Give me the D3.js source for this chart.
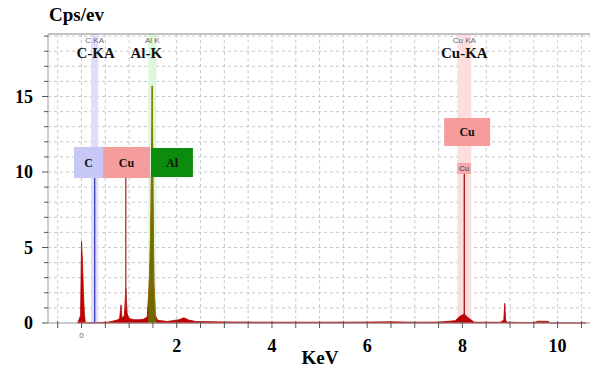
<!DOCTYPE html>
<meta charset="utf-8">
<style>
  body { margin: 0; background: #fff; }
  text { font-family: "Liberation Serif", "DejaVu Serif", serif; }
</style>
<svg width="590" height="369"></svg>
<script src="https://d3js.org/d3.v7.min.js"></script>
<script>

// spectrum (keV, cps)
var keV = [-0.08, -0.02, 0.0, 0.02, 0.04, 0.06, 0.08, 0.55, 0.65, 0.75, 0.8, 0.83, 0.85, 0.9, 0.93, 0.96, 1.0, 1.1, 1.2, 1.3, 1.38, 1.42, 1.44, 1.46, 1.475, 1.486, 1.5, 1.52, 1.55, 1.6, 1.8, 2.05, 2.15, 2.25, 2.4, 3.0, 4.0, 5.0, 6.0, 6.5, 7.0, 7.5, 7.85, 7.95, 8.04, 8.12, 8.25, 8.8, 8.87, 8.89, 8.91, 8.95, 9.5, 9.58, 9.62, 9.8, 9.85, 10.6];
var cps = [0, 0.5, 5.4, 4.0, 2.0, 0.6, 0, 0.05, 0.12, 0.2, 0.3, 1.2, 0.3, 0.5, 2.3, 0.6, 0.3, 0.22, 0.22, 0.25, 0.4, 2.5, 4.2, 7.5, 11.5, 15.7, 8.5, 2.6, 0.5, 0.18, 0.1, 0.22, 0.35, 0.2, 0.1, 0.07, 0.05, 0.05, 0.06, 0.08, 0.05, 0.06, 0.15, 0.45, 0.6, 0.35, 0.05, 0.05, 0.2, 1.3, 0.15, 0.05, 0.02, 0.12, 0.12, 0.1, 0, 0];

// element markers
var lineNames = ["C", "Al", "Cu"];
var lineEnergy = [0.277, 1.486, 8.04];
var lineTitle = ["C-KA", "Al-K", "Cu-KA"];
var lineSmall = ["C KA", "Al K", "Cu KA"];

var xTickLabels = [2, 4, 6, 8, 10];
var yTickLabels = [0, 5, 10, 15];

var svg = d3.select("svg"),
  margin = {top: 34, right: 0, bottom: 46, left: 48},
  width = +svg.attr("width") - margin.left - margin.right,
  height = +svg.attr("height") - margin.top - margin.bottom;

var x = d3.scaleLinear().domain([-0.704, 10.68]).range([0, width]),
  y = d3.scaleLinear().domain([0, 19.14]).range([height, 0]);

var g = svg.append("g").attr("transform", "translate(" + margin.left + "," + margin.top + ")");

// GRID
var xMinor = d3.range(-0.5, 10.6, 0.5), yMinor = d3.range(1, 19.1, 1);
g.selectAll(".vgrid").data(xMinor).enter().append("line")
  .attr("x1", d => x(d)).attr("x2", d => x(d)).attr("y1", 0).attr("y2", height)
  .attr("stroke", "#c8c8c8").attr("stroke-dasharray", "3,3");
g.selectAll(".hgrid").data(yMinor).enter().append("line")
  .attr("x1", 0).attr("x2", width).attr("y1", d => y(d)).attr("y2", d => y(d))
  .attr("stroke", "#c8c8c8").attr("stroke-dasharray", "3,3");

// BANDS
var bandColor = {C: "#dedef8", Al: "#dcf7dc", Cu: "#fcdede"};
var bandW = {C: 7, Al: 8, Cu: 14};
lineNames.forEach(function(n, i) {
  g.append("rect")
    .attr("x", x(lineEnergy[i]) - bandW[n] / 2).attr("width", bandW[n])
    .attr("y", 0).attr("height", height)
    .attr("fill", bandColor[n]);
});

// SPECTRUM
var pts = keV.map((k, i) => [k, cps[i]]);
var area = d3.area().x(d => x(d[0])).y0(y(0)).y1(d => y(d[1]));
g.append("path").datum(pts).attr("d", area)
  .attr("fill", "#c00000").attr("stroke", "#b00000").attr("stroke-width", 0.8);

g.append("clipPath").attr("id", "alclip").append("rect")
  .attr("x", x(1.486) - 4).attr("width", 8).attr("y", 0).attr("height", height);
g.append("path").datum(pts).attr("d", area).attr("clip-path", "url(#alclip)")
  .attr("fill", "#6e6a00").attr("stroke", "#8a8600").attr("stroke-width", 0.8);

// marker lines
var markers = [
  {e: 0.277, top: 9.6, col: "#3a3ab8"},
  {e: 0.93, top: 9.6, col: "#b03030"},
  {e: 8.04, top: 9.87, col: "#a01010"}
];
g.selectAll(".mline").data(markers).enter().append("line")
  .attr("x1", d => x(d.e)).attr("x2", d => x(d.e))
  .attr("y1", d => y(d.top)).attr("y2", d => y(d.e === 0.93 ? 0.8 : 0))
  .attr("stroke", d => d.col).attr("stroke-width", 1.3);

// boxes
var boxes = [
  {t: "C", x0: -0.158, x1: 0.452, y0: 9.6, y1: 11.66, fill: "#c8c8f6", fs: 12},
  {t: "Cu", x0: 0.452, x1: 1.439, y0: 9.6, y1: 11.66, fill: "#f79c9c", fs: 12},
  {t: "Al", x0: 1.46, x1: 2.34, y0: 9.67, y1: 11.59, fill: "#0c8c0c", fs: 12},
  {t: "Cu", x0: 7.616, x1: 8.582, y0: 11.72, y1: 13.58, fill: "#f79c9c", fs: 12},
  {t: "Cu", x0: 7.89, x1: 8.18, y0: 9.87, y1: 10.6, fill: "#f7a8a8", fs: 8, small: true}
];
var bx = g.selectAll(".box").data(boxes).enter().append("g");
bx.append("rect")
  .attr("x", d => x(d.x0)).attr("width", d => x(d.x1) - x(d.x0))
  .attr("y", d => y(d.y1)).attr("height", d => y(d.y0) - y(d.y1))
  .attr("fill", d => d.fill);
bx.append("text")
  .attr("x", d => (x(d.x0) + x(d.x1)) / 2).attr("y", d => (y(d.y0) + y(d.y1)) / 2)
  .attr("dy", "0.35em").attr("text-anchor", "middle")
  .style("font-size", d => d.fs + "px")
  .style("font-weight", d => d.small ? "normal" : "bold")
  .style("font-family", d => d.small ? "Liberation Sans, sans-serif" : null)
  .attr("fill", d => d.small ? "#444" : "#111")
  .text(d => d.t);

// line titles
lineNames.forEach(function(n, i) {
  g.append("text").attr("x", x(lineEnergy[i])).attr("y", 9)
    .attr("text-anchor", "middle").attr("fill", "#666")
    .style("font-family", "Liberation Sans, sans-serif").style("font-size", "8px")
    .text(lineSmall[i]);
  g.append("text").attr("x", x(lineEnergy[i]) + (n === "Al" ? -6 : n === "C" ? 1 : 0)).attr("y", 24)
    .attr("text-anchor", "middle").attr("fill", "#111")
    .style("font-weight", "bold").style("font-size", "15px")
    .text(lineTitle[i]);
});

// AXES
g.append("line").attr("x1", 0).attr("x2", width).attr("y1", 0).attr("y2", 0).attr("stroke", "#8a8a8a").attr("stroke-width", 1.2);
g.append("line").attr("x1", 0).attr("x2", 0).attr("y1", 0).attr("y2", height).attr("stroke", "#9a9a9a");
g.append("line").attr("x1", 0).attr("x2", width).attr("y1", height).attr("y2", height).attr("stroke", "#9a9a9a");

g.selectAll(".xt").data(xMinor).enter().append("line")
  .attr("x1", d => x(d)).attr("x2", d => x(d)).attr("y1", height - 2).attr("y2", height + 5)
  .attr("stroke", "#555");
g.selectAll(".yt").data(d3.range(0, 19.1, 1)).enter().append("line")
  .attr("x1", d => d % 5 === 0 ? -6 : -4).attr("x2", 0).attr("y1", d => y(d)).attr("y2", d => y(d))
  .attr("stroke", "#555");

g.selectAll(".xl").data(xTickLabels).enter().append("text")
  .attr("x", d => x(d)).attr("y", height + 29).attr("text-anchor", "middle")
  .style("font-weight", "bold").style("font-size", "18px").text(d => d);
g.append("text").attr("x", x(0)).attr("y", height + 15).attr("text-anchor", "middle")
  .attr("fill", "#666").style("font-family", "Liberation Sans, sans-serif").style("font-size", "8px").text("0");
g.selectAll(".yl").data(yTickLabels).enter().append("text")
  .attr("x", -15).attr("y", d => y(d)).attr("dy", "0.35em").attr("text-anchor", "end")
  .style("font-weight", "bold").style("font-size", "18px").text(d => d);

svg.append("text").attr("x", 320).attr("y", 364).attr("text-anchor", "middle")
  .style("font-weight", "bold").style("font-size", "19px").text("KeV");
svg.append("text").attr("x", 49).attr("y", 21)
  .style("font-weight", "bold").style("font-size", "19px").text("Cps/ev");

</script>
